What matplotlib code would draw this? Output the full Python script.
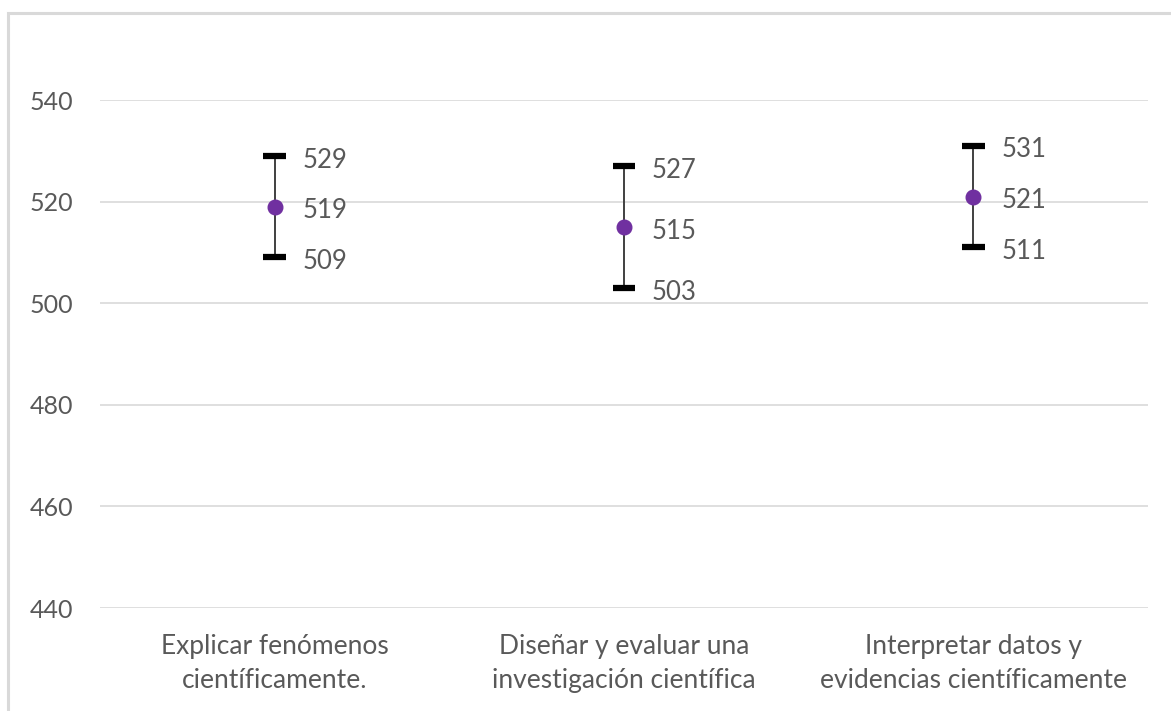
import matplotlib.pyplot as plt
from matplotlib.patches import Rectangle

categories = ["Explicar fenómenos\ncientíficamente.",
              "Diseñar y evaluar una\ninvestigación científica",
              "Interpretar datos y\nevidencias científicamente"]
means = [519, 515, 521]
lows = [509, 503, 511]
highs = [529, 527, 531]
yticks = [440, 460, 480, 500, 520, 540]

GREY = "#595959"
PURPLE = "#7030A0"

plt.rcParams['font.family'] = ['Lato', 'DejaVu Sans']

fig = plt.figure(figsize=(11.71, 7.11), dpi=100)
fig.patches.append(Rectangle((8 / 1171, -0.1), 1.2, 1 - 13 / 711 + 0.1,
                             transform=fig.transFigure, fill=False,
                             edgecolor="#D9D9D9", linewidth=2.2))

ax = fig.add_axes([100 / 1171, 1 - 608 / 711, 1048 / 1171, 508 / 711])
x = list(range(len(categories)))

# error bars: thin stem + thick caps
for i in x:
    ax.plot([i, i], [lows[i], highs[i]], color="#404040", linewidth=1.4, zorder=2)
    for v in (lows[i], highs[i]):
        ax.plot([i - 0.032, i + 0.032], [v, v], color="black", linewidth=4.5,
                solid_capstyle="butt", zorder=3)
ax.plot(x, means, linestyle="none", marker="o", markersize=10.5,
        color=PURPLE, zorder=4)

for i in x:
    for v in (highs[i], means[i], lows[i]):
        ax.annotate(str(v), (i, v), xytext=(20, -3), textcoords="offset points",
                    ha="left", va="center", fontsize=18.5, color=GREY)

ax.set_xlim(-0.5, 2.5)
ax.set_ylim(440, 540)
ax.set_yticks(yticks)
ax.set_xticks(x)
ax.set_xticklabels(categories, fontsize=19, color=GREY, linespacing=1.42)
ax.tick_params(axis="y", length=0, pad=19, labelsize=18, labelcolor=GREY)
ax.tick_params(axis="x", length=0, pad=19)
ax.grid(axis="y", color="#D9D9D9", linewidth=1.2)
ax.set_axisbelow(True)
for s in ax.spines.values():
    s.set_visible(False)

fig.savefig("out.png", dpi=100)
